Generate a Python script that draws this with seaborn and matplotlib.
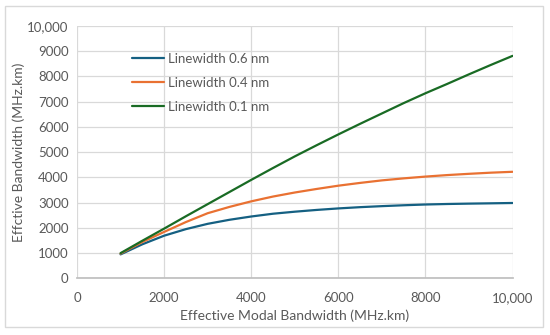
import matplotlib
matplotlib.use("Agg")
import matplotlib.pyplot as plt
from matplotlib.patches import Rectangle
from matplotlib.ticker import FuncFormatter
import pandas as pd
import seaborn as sns

# values
modal_bw = [1000, 1500, 2000, 2500, 3000, 3500, 4000, 4500, 5000, 5500,
            6000, 6500, 7000, 7500, 8000, 8500, 9000, 9500, 10000]
bw_06 = [950, 1350, 1690, 1950, 2160, 2320, 2450, 2560, 2640, 2710,
         2770, 2820, 2860, 2895, 2925, 2945, 2960, 2972, 2985]
bw_04 = [980, 1440, 1840, 2230, 2580, 2830, 3050, 3240, 3400, 3540,
         3670, 3780, 3880, 3960, 4030, 4090, 4140, 4185, 4220]
bw_01 = [1000, 1490, 1970, 2460, 2940, 3420, 3900, 4370, 4830, 5270,
         5700, 6120, 6530, 6940, 7330, 7700, 8080, 8450, 8810]
series_names = ["Linewidth 0.6 nm", "Linewidth 0.4 nm", "Linewidth 0.1 nm"]
series_colors = ["#156082", "#E97132", "#196B24"]

df = pd.concat([
    pd.DataFrame({"x": modal_bw, "y": vals, "series": name})
    for name, vals in zip(series_names, [bw_06, bw_04, bw_01])
])

sns.set_theme(style="whitegrid")
plt.rcParams["font.family"] = ["Lato", "DejaVu Sans"]
text_col = "#595959"

fig = plt.figure(figsize=(5.5, 3.35), dpi=100)
ax = fig.add_axes([0.14, 0.169, 0.792, 0.754])

sns.lineplot(data=df, x="x", y="y", hue="series", palette=series_colors,
             linewidth=1.6, ax=ax)

ax.set_xlim(0, 10000)
ax.set_ylim(0, 10000)
ax.set_xticks(range(0, 10001, 2000))
ax.set_yticks(range(0, 10001, 1000))
fmt = FuncFormatter(lambda v, p: f"{int(v):,}" if v >= 10000 else f"{int(v)}")
ax.xaxis.set_major_formatter(fmt)
ax.yaxis.set_major_formatter(fmt)

ax.grid(True, color="#d9d9d9", linewidth=0.9)
for side in ["top", "right", "left"]:
    ax.spines[side].set_visible(False)
ax.spines["bottom"].set_color("#bfbfbf")
ax.tick_params(axis="both", labelsize=9.5, labelcolor=text_col, length=3,
               color="#bfbfbf", pad=3)
ax.tick_params(axis="x", pad=7)

ax.set_xlabel("Effective Modal Bandwidth (MHz.km)", fontsize=10, color=text_col)
ax.set_ylabel("Effctive Bandwidth (MHz.km)", fontsize=10, color=text_col,
              labelpad=2)

leg = ax.legend(loc="upper left", bbox_to_anchor=(0.1, 0.94), frameon=False,
                fontsize=9.5, handlelength=2.4, labelspacing=0.9,
                handletextpad=0.3)
for t in leg.get_texts():
    t.set_color(text_col)

fig.patches.append(Rectangle((5 / 550, 1 - 327 / 335), 538 / 550, 321 / 335,
                             transform=fig.transFigure, fill=False,
                             edgecolor="#d9d9d9", linewidth=1))

fig.savefig("out.png", dpi=100)
